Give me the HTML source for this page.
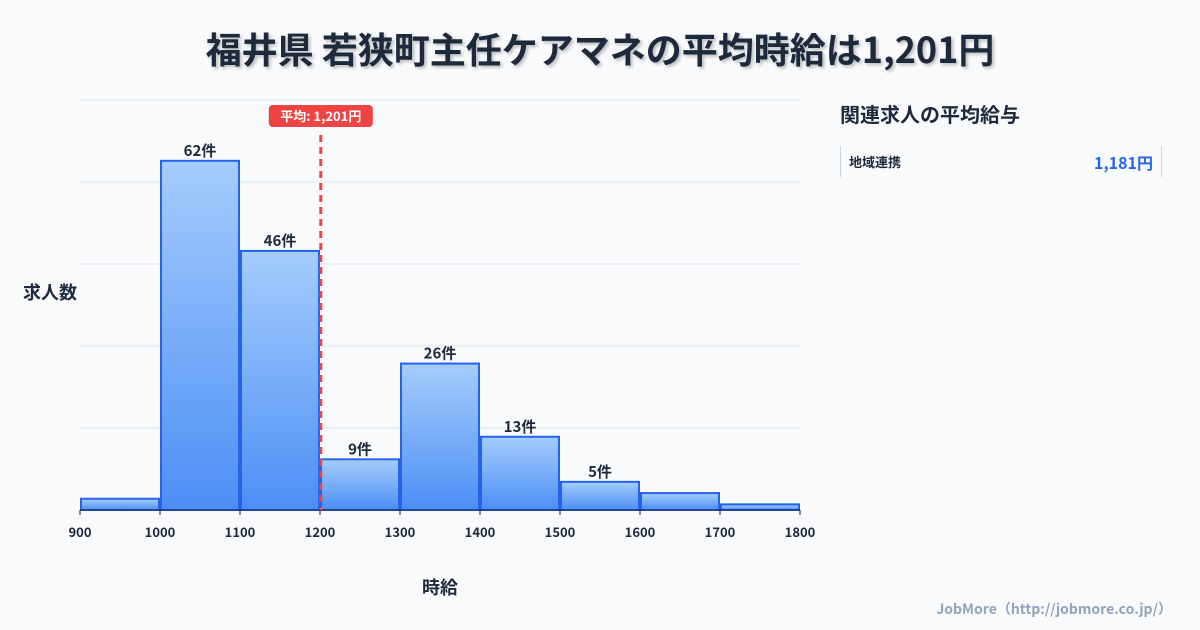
<!DOCTYPE html>
<html><head><meta charset="utf-8"><style>
body{margin:0;width:1200px;height:630px;background:#f8fafc;font-family:"Noto Sans CJK JP","Liberation Sans",sans-serif;overflow:hidden;position:relative}
.t{position:absolute;left:0;width:1200px;top:23px;text-align:center;font-size:36px;font-weight:bold;color:#1e293b;text-shadow:2px 2px 3px rgba(0,0,0,.25);line-height:1.4}
</style></head><body>
<div class="t">福井県 若狭町主任ケアマネの平均時給は1,201円</div>
<svg id="c" width="1200" height="630" style="position:absolute;left:0;top:0;font-family:'Noto Sans CJK JP','Liberation Sans',sans-serif">
<defs><linearGradient id="g" x1="0" y1="0" x2="0" y2="1"><stop offset="0" stop-color="#a5cdfc"/><stop offset="1" stop-color="#4d8ef5"/></linearGradient></defs>
</svg>
<div style="position:absolute;left:840px;top:100px;font-size:20px;font-weight:bold;color:#1e293b;line-height:1.4">関連求人の平均給与</div>
<div style="position:absolute;left:840px;top:146px;width:320px;height:31px;border-left:1px solid #cbd5e1;border-right:1px solid #cbd5e1">
<span style="position:absolute;left:8px;top:7px;font-size:13px;font-weight:bold;color:#1e293b;line-height:1.4">地域連携</span>
<span style="position:absolute;right:8px;top:5px;font-size:16px;font-weight:bold;color:#2563eb;line-height:1.4">1,181円</span></div>
<div style="position:absolute;right:28px;top:600px;font-size:14px;font-weight:bold;color:#94a3b8;line-height:1.4">JobMore（http://jobmore.co.jp/）</div>
<script>
const bins=[900,1000,1100,1200,1300,1400,1500,1600,1700];
const counts=[2,62,46,9,26,13,5,3,1];
const xTicks=[900,1000,1100,1200,1300,1400,1500,1600,1700,1800];
const meanValue=1201;
const yMax=72.8;
const NS="http://www.w3.org/2000/svg",s=document.getElementById('c');
const x=v=>80+(v-900)/900*720, y=v=>510-v/yMax*410;
function mk(t,a,txt){const e=document.createElementNS(NS,t);for(const k in a)e.setAttribute(k,a[k]);if(txt!=null)e.textContent=txt;s.appendChild(e);return e;}
for(let i=0;i<=5;i++){const g=mk('line',{x1:80,x2:800,y1:510-i*82,y2:510-i*82,stroke:'#e2e8f0'});

}
bins.forEach((b,i)=>{const r=mk('rect',{x:x(b)+1,y:y(counts[i]),width:x(b+100)-x(b)-2,height:510-y(counts[i]),fill:'url(#g)',stroke:'#2563eb','stroke-width':2});


if(counts[i]>=5){const l=mk('text',{x:x(b+50),y:y(counts[i])-5,'text-anchor':'middle','font-size':15,'font-weight':'bold',fill:'#1e293b'},counts[i]+'件');

}});
mk('line',{x1:80,x2:800,y1:510,y2:510,stroke:'#1e293b'});
xTicks.forEach(t=>{mk('line',{x1:x(t),x2:x(t),y1:510,y2:515,stroke:'#1e293b'});
const l=mk('text',{x:x(t),y:537,'text-anchor':'middle','font-size':13,'font-weight':'bold',fill:'#1e293b'},t);

});
const mx=x(meanValue);
const ml=mk('line',{x1:mx,x2:mx,y1:135,y2:510,stroke:'#ef4444','stroke-width':3,'stroke-dasharray':'7,5'});


const mb=mk('rect',{x:mx-52,y:105,width:104,height:22,rx:4,fill:'#ef4444'});


mk('text',{x:mx,y:121,'text-anchor':'middle','font-size':13,'font-weight':'bold',fill:'#fff'},'平均: 1,201円');
const yt=mk('text',{x:50,y:299,'text-anchor':'middle','font-size':18,'font-weight':'bold',fill:'#1e293b'},'求人数');


const xt=mk('text',{x:440,y:594,'text-anchor':'middle','font-size':18,'font-weight':'bold',fill:'#1e293b'},'時給');


</script>
</body></html>
